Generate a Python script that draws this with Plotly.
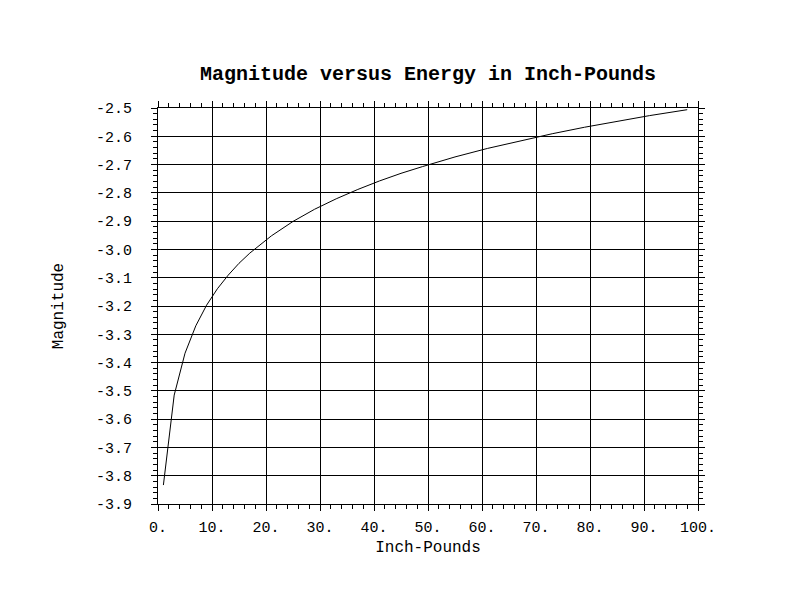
import plotly.graph_objects as go

energy = [1, 3, 5, 7, 9, 11, 13, 15, 17, 19, 21, 25, 29, 33, 37, 41, 45, 49,
          55, 61, 67, 73, 79, 85, 91, 98]
magnitude = [-3.833, -3.515, -3.367, -3.270, -3.197, -3.139, -3.091, -3.049,
             -3.013, -2.981, -2.952, -2.901, -2.858, -2.821, -2.788, -2.758,
             -2.731, -2.707, -2.673, -2.643, -2.616, -2.591, -2.568, -2.547,
             -2.527, -2.506]

x_ticks = [0, 10, 20, 30, 40, 50, 60, 70, 80, 90, 100]
x_labels = ["0.", "10.", "20.", "30.", "40.", "50.", "60.", "70.", "80.", "90.", "100."]
y_ticks = [-3.9, -3.8, -3.7, -3.6, -3.5, -3.4, -3.3, -3.2, -3.1, -3.0,
           -2.9, -2.8, -2.7, -2.6, -2.5]
y_labels = ["-3.9", "-3.8", "-3.7", "-3.6", "-3.5", "-3.4", "-3.3", "-3.2",
            "-3.1", "-3.0", "-2.9", "-2.8", "-2.7", "-2.6", "-2.5"]

FONT = "Liberation Mono, Courier New, DejaVu Sans Mono, monospace"

fig = go.Figure()
fig.add_trace(go.Scatter(x=energy, y=magnitude, mode="lines",
                         line=dict(color="black", width=1), showlegend=False))

axis_common = dict(
    showline=True, linecolor="black", linewidth=1, mirror="allticks",
    showgrid=True, gridcolor="black", gridwidth=1,
    ticks="outside", ticklen=6, tickwidth=1, tickcolor="black",
    zeroline=False,
    tickfont=dict(family=FONT, size=15, color="black"),
)

fig.update_xaxes(
    range=[0, 100], tickvals=x_ticks, ticktext=x_labels,
    ticklabelstandoff=3,
    minor=dict(dtick=2, ticks="outside", ticklen=4, tickcolor="black",
               tickwidth=1, showgrid=False),
    title=dict(text="Inch-Pounds", font=dict(family=FONT, size=16, color="black"),
               standoff=4),
    **axis_common,
)
fig.update_yaxes(
    range=[-3.9, -2.5], tickvals=y_ticks, ticktext=y_labels,
    ticklabelstandoff=16,
    minor=dict(dtick=0.02, ticks="outside", ticklen=4, tickcolor="black",
               tickwidth=1, showgrid=False),
    title=dict(text="Magnitude", font=dict(family=FONT, size=16, color="black"),
               standoff=28),
    **axis_common,
)

fig.update_layout(
    width=792, height=612,
    margin=dict(l=158, r=94, t=108, b=108),
    paper_bgcolor="white", plot_bgcolor="white",
    title=dict(text="<b>Magnitude versus Energy in Inch-Pounds</b>",
               x=(158 + 698) / 2 / 792, xanchor="center",
               y=1 - 73 / 612, yanchor="middle",
               font=dict(family=FONT, size=20, color="black")),
)

fig.write_html("out.html")
